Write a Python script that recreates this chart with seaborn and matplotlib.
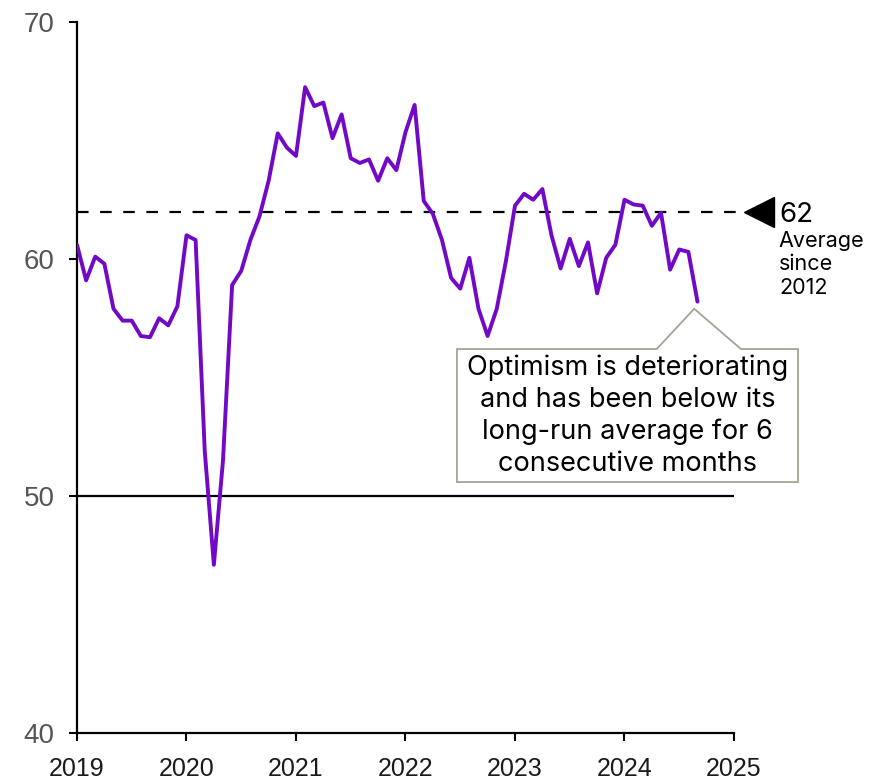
import matplotlib
matplotlib.use("Agg")
import matplotlib.pyplot as plt
import numpy as np
import pandas as pd
import seaborn as sns
from matplotlib.patches import Polygon

# Monthly optimism index, Jan 2019 - Sep 2024
values = [60.6, 59.1, 60.1, 59.8, 57.9, 57.4, 57.4, 56.75, 56.7, 57.5, 57.2, 58.0,
          61.0, 60.8, 51.9, 47.1, 51.5, 58.9, 59.5, 60.8, 61.8, 63.3, 65.3, 64.7,
          64.35, 67.25, 66.45, 66.6, 65.1, 66.1, 64.25, 64.05, 64.2, 63.3, 64.25, 63.75,
          65.35, 66.5, 62.45, 61.9, 60.8, 59.2, 58.75, 60.05, 57.9, 56.75, 57.9, 59.9,
          62.25, 62.75, 62.5, 62.95, 61.0, 59.6, 60.85, 59.7, 60.7, 58.55, 60.05, 60.6,
          62.5, 62.3, 62.25, 61.4, 61.95, 59.55, 60.4, 60.3, 58.2]
months = pd.date_range("2019-01-01", periods=len(values), freq="MS")
long_run_average = 62
neutral_level = 50
year_ticks = [2019, 2020, 2021, 2022, 2023, 2024, 2025]
y_ticks = [40, 50, 60, 70]

callout_text = ("Optimism is deteriorating\nand has been below its\n"
                "long-run average for 6\nconsecutive months")
avg_note = "Average\nsince\n2012"

LINE_COLOR = "#7109C7"
NOTE_FONT = ["Inter", "Liberation Sans", "DejaVu Sans"]

sns.set_style("ticks")
plt.rcParams["font.family"] = ["Liberation Sans", "DejaVu Sans"]

df = pd.DataFrame({
    "t": months.year + (months.month - 1) / 12.0,
    "value": values,
})

fig = plt.figure(figsize=(8.71, 7.79), dpi=100)
ax = fig.add_axes([0.0884, 0.0590, 0.7543, 0.9128])

sns.lineplot(data=df, x="t", y="value", color=LINE_COLOR, lw=2.8, ax=ax, zorder=3)

# long-run average and the 50 mark
ax.plot([year_ticks[0], year_ticks[-1] + 0.03], [long_run_average] * 2, color="black",
        lw=1.6, dashes=(5.2, 5.2), clip_on=False, zorder=2)
ax.plot([year_ticks[0], year_ticks[-1]], [neutral_level] * 2, color="black", lw=1.6, zorder=2)

ax.set_xlim(year_ticks[0], year_ticks[-1])
ax.set_ylim(y_ticks[0], y_ticks[-1])
ax.set_xticks(year_ticks)
ax.set_xticklabels([str(y) for y in year_ticks])
ax.set_yticks(y_ticks)
ax.set_xlabel("")
ax.set_ylabel("")

sns.despine(ax=ax)
for s in ("left", "bottom"):
    ax.spines[s].set_linewidth(1.6)
    ax.spines[s].set_color("black")

ax.tick_params(axis="y", length=6, width=1.5, pad=10, labelsize=20, labelcolor="#555555", color="black")
ax.tick_params(axis="x", length=6, width=1.5, pad=11, labelsize=18, labelcolor="#1a1a1a", color="black")

# marker and label for the long-run average
ax.plot([2025.228], [long_run_average], marker="<", ms=22, color="black",
        clip_on=False, zorder=4)
ax.text(2025.41, 61.56, str(long_run_average), fontsize=20, color="black",
        family=NOTE_FONT, ha="left", va="baseline", clip_on=False)
ax.text(2025.41, 61.2, avg_note, fontsize=15.5, color="black", family=NOTE_FONT,
        ha="left", va="top", linespacing=1.22, clip_on=False)

# callout box pointing to the latest reading
x_last = df["t"].iloc[-1]
y_last = df["value"].iloc[-1]
L, R, T, B = 2022.47, 2025.585, 56.2, 50.59
apex = (x_last - 0.03, y_last - 0.3)
verts = [(L, T), (2024.294, T), apex, (2025.064, T), (R, T), (R, B), (L, B)]
ax.add_patch(Polygon(verts, closed=True, facecolor="white", edgecolor="#a3a396",
                     lw=1.3, clip_on=False, zorder=5))
ax.text((L + R) / 2, 53.39, callout_text, fontsize=19.5, color="black", family=NOTE_FONT,
        ha="center", va="center", linespacing=1.28, zorder=6, clip_on=False)

fig.savefig("out.png", dpi=100)
